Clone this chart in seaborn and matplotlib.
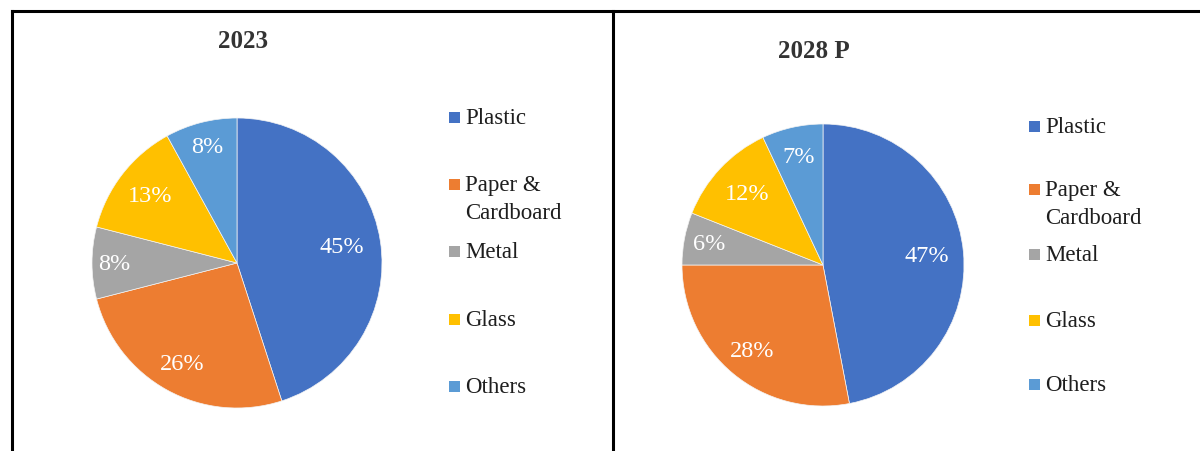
import matplotlib
matplotlib.use("Agg")
import matplotlib.pyplot as plt
from matplotlib.patches import Rectangle
from matplotlib.lines import Line2D
import seaborn as sns

# Packaging material shares (%)
categories = ["Plastic", "Paper &\nCardboard", "Metal", "Glass", "Others"]
share_2023 = [45, 26, 8, 13, 8]
share_2028 = [47, 28, 6, 12, 7]
titles = ["2023", "2028 P"]

sns.set_theme(style="white")
plt.rcParams["font.family"] = ["Liberation Serif", "DejaVu Serif"]
palette = sns.color_palette(["#4472C4", "#ED7D31", "#A5A5A5", "#FFC000", "#5B9BD5"])

W, H = 1200, 452
fig = plt.figure(figsize=(W / 100, H / 100), dpi=100)
fig.patch.set_facecolor("white")


def fx(px):
    return px / W


def fy(py):
    return 1 - py / H


def draw_panel(values, title, center, radius, title_xy, legend_x, legend_ys, label_dist):
    cx, cy = center
    ax = fig.add_axes([fx(cx - radius), fy(cy + radius), 2 * radius / W, 2 * radius / H])
    wedges, _, autotexts = ax.pie(
        values,
        colors=palette,
        startangle=90,
        counterclock=False,
        autopct=lambda p: f"{p:.0f}%",
        pctdistance=0.78,
        radius=1,
        wedgeprops=dict(linewidth=0.5, edgecolor="#f4f4f4"),
        textprops=dict(color="white", fontsize=17.5),
    )
    for t, d in zip(autotexts, label_dist):
        x, y = t.get_position()
        t.set_position((x / 0.78 * d, y / 0.78 * d))
    ax.set_xlim(-1, 1)
    ax.set_ylim(-1, 1)
    ax.set_aspect("equal")
    ax.axis("off")

    fig.text(fx(title_xy[0]), fy(title_xy[1]), title, ha="center", va="center",
             fontsize=18, fontweight="bold", color="#333333")

    sq = 11
    for color, label, ly in zip(palette, categories, legend_ys):
        fig.patches.append(Rectangle((fx(legend_x), fy(ly + sq / 2)), sq / W, sq / H,
                                     transform=fig.transFigure, facecolor=color,
                                     edgecolor="none"))
        fig.text(fx(legend_x + 16), fy(ly - 10), label, ha="left", va="top",
                 fontsize=16.5, color="#1e1e1e", linespacing=1.45)


draw_panel(share_2023, titles[0], (237, 264), 145, (243, 42), 449,
           [118, 185, 252, 320, 387], [0.73, 0.79, 0.85, 0.76, 0.83])
draw_panel(share_2028, titles[1], (823, 266), 141, (814, 52), 1029,
           [127, 190, 255, 321, 385], [0.74, 0.79, 0.82, 0.74, 0.79])

# Panel frame lines
frame = dict(color="black", linewidth=2.2, transform=fig.transFigure, solid_capstyle="projecting")
fig.lines.append(Line2D([fx(11.5), fx(1200)], [fy(11.5), fy(11.5)], **frame))
fig.lines.append(Line2D([fx(11.5), fx(11.5)], [fy(11.5), fy(452)], **frame))
fig.lines.append(Line2D([fx(613), fx(613)], [fy(11.5), fy(452)], **frame))

fig.savefig("out.png", dpi=100, facecolor="white")
